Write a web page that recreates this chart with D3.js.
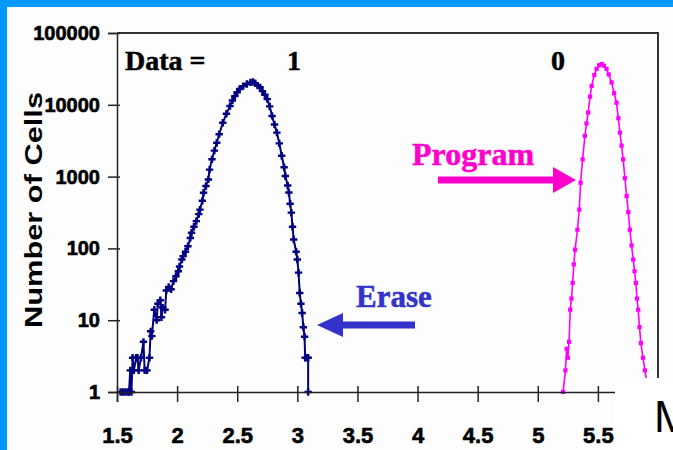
<!DOCTYPE html>
<html>
<head>
<meta charset="utf-8">
<script src="https://cdn.jsdelivr.net/npm/d3@7"></script>
<style>
  html, body { margin: 0; padding: 0; background: #0099ff; }
  svg { display: block; }
</style>
</head>
<body>
<svg id="chart" width="673" height="450"></svg>
<script>
// Erased cells (Data = 1)
const eraseX = [1.53, 1.55, 1.57, 1.59, 1.60, 1.61, 1.62, 1.63, 1.64, 1.66, 1.67, 1.68, 1.70, 1.72, 1.73,
  1.75, 1.77, 1.78, 1.79, 1.81, 1.83, 1.84, 1.86, 1.87, 1.88, 1.90, 1.91, 1.93, 1.95, 1.97, 1.99,
  2.01, 2.02, 2.04, 2.05, 2.07, 2.09, 2.11, 2.12, 2.14, 2.16, 2.18, 2.19, 2.21, 2.22, 2.24, 2.26,
  2.27, 2.29, 2.31, 2.33, 2.35, 2.38, 2.41, 2.44, 2.46, 2.48, 2.50, 2.52, 2.55, 2.58, 2.61, 2.63,
  2.65, 2.67, 2.69, 2.71, 2.73, 2.75, 2.77, 2.79, 2.81, 2.83, 2.85, 2.87, 2.89, 2.90, 2.92, 2.93,
  2.94, 2.95, 2.96, 2.97, 2.99, 3.00, 3.01, 3.02, 3.03, 3.04, 3.05, 3.06, 3.065, 3.08, 3.09, 3.09];
const eraseY = [1, 1, 1, 1, 1, 2, 1, 3, 2, 3, 3, 2, 3, 5, 2,
  2, 3, 7, 6, 14, 10, 17, 19, 11, 15, 14, 26, 29, 27, 35, 41,
  48, 56, 70, 78, 90, 107, 140, 165, 200, 240, 300, 347, 460, 596, 740, 913,
  1250, 1740, 2300, 2960, 3900, 5630, 7500, 9600, 11500, 13200, 15000, 16600, 18200, 19500, 20500, 20800,
  20000, 18500, 17500, 15500, 13800, 12000, 9500, 7000, 5300, 4100, 2900, 1950, 1350, 1020, 750, 600,
  420, 315, 200, 133, 90, 70, 46, 24, 17, 12.6, 8, 5.9, 3, 3, 3, 1];

// Programmed cells (Data = 0)
const progX = [5.21, 5.23, 5.24, 5.25, 5.26, 5.27, 5.28, 5.29, 5.30, 5.31, 5.33, 5.345, 5.356, 5.373,
  5.392, 5.405, 5.419, 5.435, 5.448, 5.47, 5.489, 5.51, 5.531, 5.55, 5.572, 5.59, 5.614, 5.635,
  5.655, 5.67, 5.683, 5.697, 5.71, 5.725, 5.739, 5.753, 5.766, 5.78, 5.794, 5.805, 5.816, 5.825,
  5.835, 5.846, 5.858, 5.875, 5.891, 5.92];
const progY = [1, 2, 4, 3, 5, 14, 20, 33, 60, 96, 182, 347, 822, 1740,
  3700, 5500, 7800, 13000, 18300, 26000, 31600, 35500, 37000, 35000, 31600, 26500, 20500, 14500,
  10700, 6500, 4100, 2700, 1740, 950, 535, 320, 182, 110, 70, 48, 33, 20,
  14, 8, 4.8, 3, 2, 1];

const xTicks = [1.5, 2, 2.5, 3, 3.5, 4, 4.5, 5, 5.5];
const yTicks = [1, 10, 100, 1000, 10000, 100000];

const plot = { left: 117, right: 658, top: 33, bottom: 392 };

const svg = d3.select('#chart');

// white slide panel
svg.append('rect')
  .attr('x', 7).attr('y', 7).attr('width', 666).attr('height', 443)
  .attr('fill', '#fcfdfc');

const x = d3.scaleLinear().domain([1.5, 6.0]).range([plot.left, plot.right]);
const y = d3.scaleLog().domain([1, 100000]).range([plot.bottom, plot.top]);

function zip(xs, ys) {
  return xs.map((v, i) => ({ x: v, y: ys[i] }));
}

function drawAxes() {
  // top and right frame
  svg.append('path')
    .attr('d', `M${plot.left},${plot.top}H${plot.right}V${plot.bottom}`)
    .attr('fill', 'none').attr('stroke', '#333').attr('stroke-width', 2);

  const ya = svg.append('g')
    .attr('transform', `translate(${plot.left},0)`)
    .call(d3.axisLeft(y).tickValues(yTicks).tickFormat(d3.format('d')).tickSize(9).tickPadding(8));
  ya.select('.domain').attr('stroke', '#222').attr('stroke-width', 1.5);
  ya.selectAll('.tick line').attr('x1', 3).attr('stroke', '#222').attr('stroke-width', 1.5);
  ya.selectAll('.tick text')
    .attr('font-family', '"Liberation Sans", Arial, sans-serif')
    .attr('font-weight', 'bold').attr('font-size', 20).attr('fill', '#000')
    .attr('stroke', '#000').attr('stroke-width', 0.6);

  const xa = svg.append('g')
    .attr('transform', `translate(0,${plot.bottom})`)
    .call(d3.axisBottom(x).tickValues(xTicks).tickFormat(d3.format('')).tickSize(10));
  xa.select('.domain').attr('stroke', '#222').attr('stroke-width', 1.5);
  xa.selectAll('.tick line').attr('y1', -6).attr('stroke', '#222').attr('stroke-width', 1.5);
  xa.selectAll('.tick text')
    .attr('y', 51).attr('dy', 0)
    .attr('font-family', '"Liberation Sans", Arial, sans-serif')
    .attr('font-weight', 'bold').attr('font-size', 22).attr('fill', '#000')
    .attr('stroke', '#000').attr('stroke-width', 0.6);

  svg.append('text')
    .attr('transform', 'translate(42,210) rotate(-90)')
    .attr('text-anchor', 'middle')
    .attr('font-family', '"Liberation Sans", Arial, sans-serif')
    .attr('font-weight', 'bold').attr('font-size', 24)
    .attr('textLength', 236).attr('lengthAdjust', 'spacingAndGlyphs')
    .text('Number of Cells');
}

function drawSeries(points, color, symbol, size, width) {
  const line = d3.line().x((d) => x(d.x)).y((d) => y(d.y));
  svg.append('path')
    .datum(points)
    .attr('d', line)
    .attr('fill', 'none').attr('stroke', color).attr('stroke-width', width);
  svg.append('g')
    .selectAll('path')
    .data(points)
    .join('path')
    .attr('transform', (d) => `translate(${x(d.x)},${y(d.y)})`)
    .attr('d', d3.symbol().type(symbol).size(size))
    .attr('fill', color);
}

function arrow(x1, x2, yc, thick, head, headLen, color) {
  const dir = Math.sign(x2 - x1);
  const hb = x2 - dir * headLen;
  svg.append('path')
    .attr('d', `M${x1},${yc - thick / 2}H${hb}V${yc - head}L${x2},${yc}L${hb},${yc + head}V${yc + thick / 2}H${x1}Z`)
    .attr('fill', color);
}

function drawLabels() {
  const serif = '"Liberation Serif", "Times New Roman", serif';
  const lab = [
    { t: 'Data =', x: 125, y: 70, a: 'start', c: '#000', s: 28 },
    { t: '1', x: 294, y: 70, a: 'middle', c: '#000', s: 28 },
    { t: '0', x: 558, y: 70, a: 'middle', c: '#000', s: 28 },
    { t: 'Program', x: 412, y: 165, a: 'start', c: '#ff00cc', s: 32 },
    { t: 'Erase', x: 356, y: 307, a: 'start', c: '#3333cc', s: 31 }
  ];
  svg.append('g')
    .selectAll('text')
    .data(lab)
    .join('text')
    .attr('x', (d) => d.x).attr('y', (d) => d.y)
    .attr('text-anchor', (d) => d.a)
    .attr('fill', (d) => d.c)
    .attr('stroke', (d) => d.c).attr('stroke-width', 0.5)
    .attr('font-family', serif).attr('font-weight', 'bold')
    .attr('font-size', (d) => d.s)
    .text((d) => d.t);

  arrow(438, 576, 180, 7, 13, 23, '#ff00cc');
  arrow(415, 317, 325, 7, 12, 26, '#3333cc');
}

drawSeries(zip(eraseX, eraseY), '#000080', d3.symbolCross, 30, 2);
drawSeries(zip(progX, progY), '#ff00ff', d3.symbolSquare, 18, 1.6);
drawAxes();
drawLabels();

// box of the next slide item that covers the corner
svg.append('rect')
  .attr('x', 615).attr('y', 378).attr('width', 58).attr('height', 72)
  .attr('fill', '#fff');
svg.append('text')
  .attr('x', 654).attr('y', 432)
  .attr('font-family', '"Liberation Sans", Arial, sans-serif')
  .attr('font-size', 44)
  .text('M');
</script>
</body>
</html>
